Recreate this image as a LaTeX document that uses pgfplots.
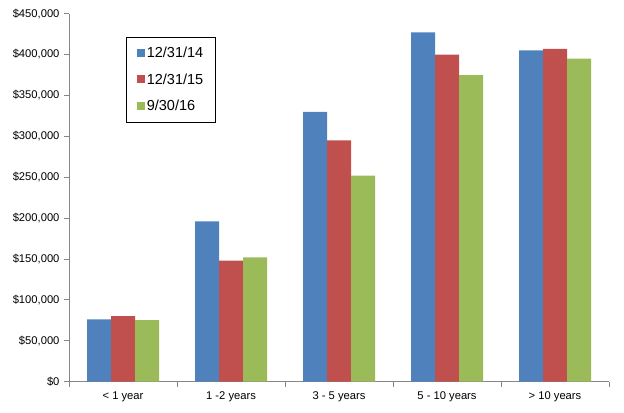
\documentclass[border=0pt]{standalone}
\usepackage{pgfplots}
\pgfplotsset{compat=1.18}
\usepackage{fontspec}
\setmainfont{Liberation Sans}
\definecolor{cblue}{HTML}{4F81BD}
\definecolor{cred}{HTML}{C0504D}
\definecolor{cgreen}{HTML}{9BBB59}
\definecolor{axgray}{HTML}{868686}
\begin{document}
\begin{tikzpicture}
\begin{axis}[
  name=ax,
  scale only axis,
  width=540pt, height=367.8pt,
  xmin=-0.5, xmax=4.5,
  ymin=0, ymax=450000,
  ybar=0pt, bar width=24pt,
  axis x line=bottom, axis y line=left,
  axis line style={-, draw=axgray, line width=0.8pt},
  xtick={0,1,2,3,4},
  xticklabels={{< 1 year},{1 -2 years},{3 - 5 years},{5 - 10 years},{> 10 years}},
  minor xtick={-0.5,0.5,1.5,2.5,3.5,4.5},
  major x tick style={draw=none},
  minor x tick style={draw=axgray, line width=0.8pt},
  minor tick length=5pt,
  ytick={0,50000,...,450000},
  y tick style={draw=axgray, line width=0.8pt},
  major tick length=5pt,
  tick align=outside,
  scaled y ticks=false,
  yticklabel={\$\pgfmathprintnumber{\tick}},
  /pgf/number format/.cd, fixed, 1000 sep={,}, assume math mode=true,
  /pgfplots/.cd,
  tick label style={font=\fontsize{11.2}{13}\selectfont, text=black},
  xticklabel style={yshift=-2pt},
  yticklabel style={xshift=-1pt},
  legend style={at={(0.1056,0.937)}, anchor=north west, draw=black, line width=0.6pt,
    font=\fontsize{14.5}{16}\selectfont, row sep=10.5pt, inner xsep=10.5pt, inner ysep=8pt,
    legend cell align=left},
  legend image code/.code={\fill[#1] (0pt,-3.5pt) rectangle (8pt,4.5pt);},
  every axis plot/.append style={draw=none},
]
\addplot[fill=cblue] coordinates {(0,76000) (1,196000) (2,330000) (3,427000) (4,405000)};
\addplot[fill=cred] coordinates {(0,80000) (1,148000) (2,295000) (3,400000) (4,407000)};
\addplot[fill=cgreen] coordinates {(0,75000) (1,152000) (2,252000) (3,375000) (4,395000)};
\legend{12/31/14,12/31/15,9/30/16}
\end{axis}
\path (ax.south west) ++(-69pt,-30.5pt) coordinate (bbA);
\path (ax.north east) ++(15pt,13.7pt) coordinate (bbB);
\pgfresetboundingbox
\path[use as bounding box] (bbA) rectangle (bbB);
\end{tikzpicture}
\end{document}
